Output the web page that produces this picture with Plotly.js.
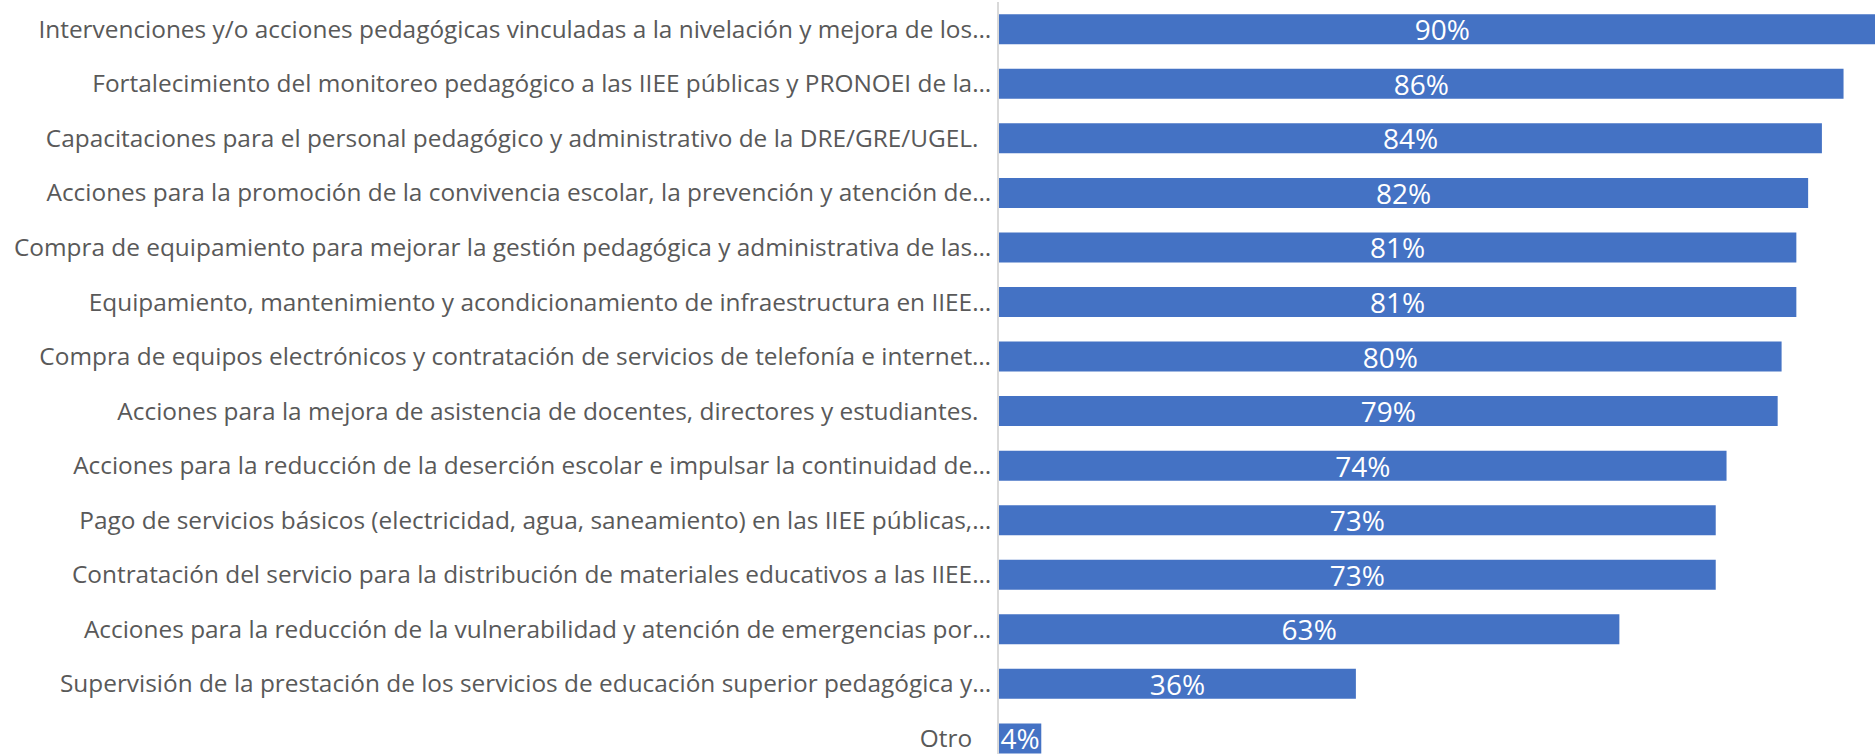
<!DOCTYPE html>
<html>
<head>
<meta charset="utf-8">
<script src="https://cdn.plot.ly/plotly-3.0.1.min.js"></script>
<style>
  html, body { margin: 0; padding: 0; background: #fff; }
  #chart { width: 1875px; height: 754px; }
</style>
</head>
<body>
<div id="chart"></div>
<script>
// categories, top to bottom
var acciones = [
  'Intervenciones y/o acciones pedagógicas vinculadas a la nivelación y mejora de los…',
  'Fortalecimiento del monitoreo pedagógico a las IIEE públicas y PRONOEI de la…',
  'Capacitaciones para el personal pedagógico y administrativo de la DRE/GRE/UGEL.\u00a0\u00a0',
  'Acciones para la promoción de la convivencia escolar, la prevención y atención de…',
  'Compra de equipamiento para mejorar la gestión pedagógica y administrativa de las…',
  'Equipamiento, mantenimiento y acondicionamiento de infraestructura en IIEE…',
  'Compra de equipos electrónicos y contratación de servicios de telefonía e internet…',
  'Acciones para la mejora de asistencia de docentes, directores y estudiantes.\u00a0\u00a0',
  'Acciones para la reducción de la deserción escolar e impulsar la continuidad de…',
  'Pago de servicios básicos (electricidad, agua, saneamiento) en las IIEE públicas,…',
  'Contratación del servicio para la distribución de materiales educativos a las IIEE…',
  'Acciones para la reducción de la vulnerabilidad y atención de emergencias por…',
  'Supervisión de la prestación de los servicios de educación superior pedagógica y…',
  'Otro\u00a0\u00a0\u00a0'
];
// percentages
var porcentaje = [90.2, 85.9, 83.7, 82.3, 81.1, 81.1, 79.6, 79.2, 74.0, 72.9, 72.9, 63.1, 36.3, 4.3];

var barras = {
  type: 'bar',
  orientation: 'h',
  x: porcentaje,
  y: acciones,
  marker: { color: '#4472c4', line: { width: 0 } },
  texttemplate: '%{x:.0f}%',
  textposition: 'inside',
  insidetextanchor: 'middle',
  constraintext: 'none',
  cliponaxis: true,
  textfont: { family: 'Open Sans, sans-serif', size: 28, color: '#ffffff' },
  hoverinfo: 'none'
};

var layout = {
  width: 1875,
  height: 754,
  margin: { l: 999, r: 0, t: 2, b: 0 },
  paper_bgcolor: '#ffffff',
  plot_bgcolor: '#ffffff',
  showlegend: false,
  bargap: 0.45,
  font: { family: 'Open Sans, sans-serif', size: 24, color: '#595959' },
  xaxis: {
    range: [0, 89.1],
    showticklabels: false,
    showgrid: false,
    zeroline: false,
    ticks: ''
  },
  yaxis: {
    type: 'category',
    range: [13.286, -0.5],
    showgrid: false,
    showline: true,
    linecolor: '#d9d9d9',
    linewidth: 2,
    ticks: '',
    ticklabelstandoff: 1,
    tickfont: { family: 'Open Sans, sans-serif', size: 24.4, color: '#595959' }
  }
};

Plotly.newPlot('chart', [barras], layout, { displayModeBar: false, staticPlot: true });
</script>
</body>
</html>
